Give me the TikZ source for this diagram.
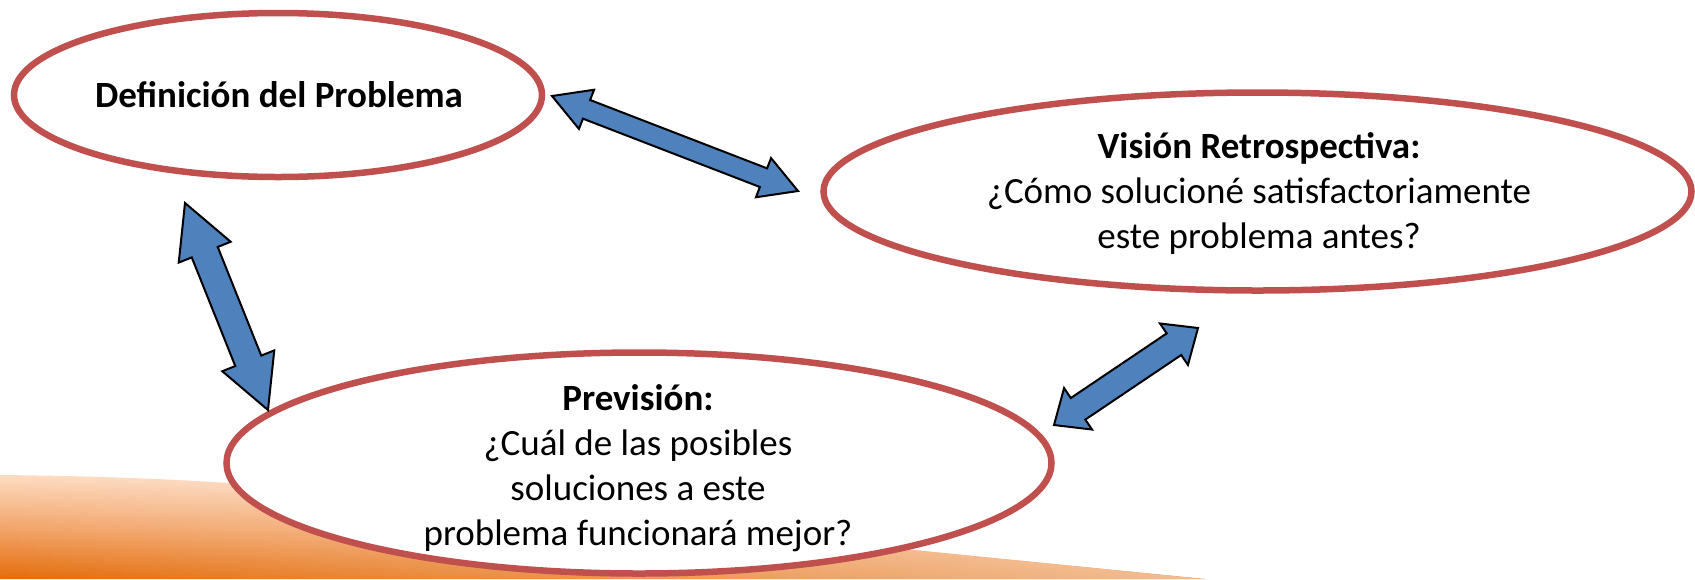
\documentclass[tikz,border=0pt]{standalone}
\usepackage{fontspec}
\setmainfont{Carlito}
\usetikzlibrary{calc,shapes.geometric,fadings}
\definecolor{ellred}{HTML}{C0504D}
\definecolor{arrblue}{HTML}{4F81BD}
\definecolor{orTop}{HTML}{FDDCC2}
\definecolor{orMid}{HTML}{F3A66C}
\definecolor{orBot}{HTML}{E46C0A}
\tikzset{
  ell/.style={ellipse, draw=ellred, line width=3.25pt, fill=white, inner sep=0pt},
  txt/.style={align=center, font=\fontsize{18.5}{22.5}\selectfont, inner sep=0pt},
  blockarrow/.style={fill=arrblue, draw=black, line width=1pt, line join=miter},
}
% #1 tip A, #2 tip B, #3 shaft half width, #4 head half width, #5 head length
\newcommand{\dblarrow}[5]{%
  \coordinate (ha) at ($(#1)!#5!(#2)$);
  \coordinate (hb) at ($(#2)!#5!(#1)$);
  \filldraw[blockarrow] (#1) -- ($(ha)!#4!90:(#2)$) -- ($(ha)!#3!90:(#2)$)
    -- ($(hb)!#3!-90:(#1)$) -- ($(hb)!#4!-90:(#1)$) -- (#2)
    -- ($(hb)!#4!90:(#1)$) -- ($(hb)!#3!90:(#1)$)
    -- ($(ha)!#3!-90:(#2)$) -- ($(ha)!#4!-90:(#2)$) -- cycle;
}
\begin{document}
\begin{tikzpicture}[x=0.5pt,y=-0.5pt]
\useasboundingbox (0,0) rectangle (1695,579);
% orange background shape
\shade[top color=orTop, bottom color=orBot, middle color=orMid]
  (0,475) .. controls (200,477) and (300,488) .. (400,499) -- (1205,579) -- (0,579) -- cycle;
\fill[white, path fading=west, fill opacity=0.55]
  (0,475) .. controls (200,477) and (300,488) .. (400,499) -- (1205,579) -- (0,579) -- cycle;
% ellipses
\node[ell, minimum width=264pt, minimum height=82pt] (def) at (278,95) {};
\node[ell, minimum width=434pt, minimum height=99pt] (ret) at (1257.5,191.5) {};
\node[ell, minimum width=412.5pt, minimum height=110.5pt] (prev) at (639,463) {};
% texts
\node[txt] (tdef) at (279,95) {\bfseries Definición del Problema};
\node[txt] (tret) at (1259,193) {\textbf{Visión Retrospectiva:}\\¿Cómo solucioné satisfactoriamente\\este problema antes?};
\node[txt] (tprev) at (638,468) {\textbf{Previsión:}\\¿Cuál de las posibles\\soluciones a este\\problema funcionará mejor?};
% arrow tips
\coordinate (a1) at (552,96);
\coordinate (a2) at (798,191);
\coordinate (b1) at (185,203);
\coordinate (b2) at (268,410);
\coordinate (c1) at (1054,425);
\coordinate (c2) at (1198,328);
\dblarrow{a1}{a2}{5pt}{10.5pt}{18.5pt}
\dblarrow{b1}{b2}{7pt}{14pt}{26.5pt}
\dblarrow{c1}{c2}{6.5pt}{12.5pt}{14.5pt}
\end{tikzpicture}
\end{document}
